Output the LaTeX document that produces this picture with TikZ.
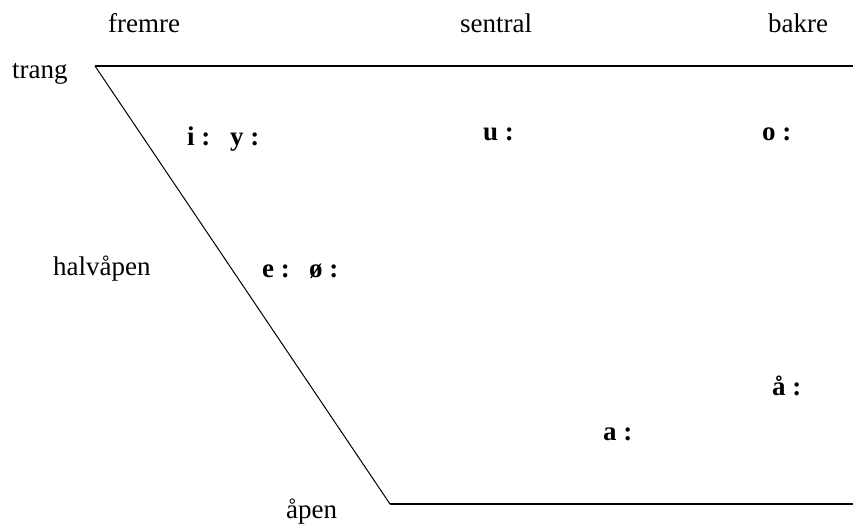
\documentclass[tikz,border=0pt]{standalone}
\usepackage{fontspec}
\setmainfont{Liberation Serif}
\begin{document}
\begin{tikzpicture}[x=1pt,y=-1pt,
  lbl/.style={inner sep=0pt,anchor=base west,font=\fontsize{27}{30}\selectfont},
  vow/.style={inner sep=0pt,anchor=base west,font=\fontsize{27}{30}\selectfont\bfseries}]
\useasboundingbox (0,0) rectangle (853,527);
\coordinate (tl) at (95,66);
\coordinate (tr) at (853,66);
\coordinate (bl) at (390,504);
\coordinate (br) at (853,504);
\draw[line width=1.8pt] (tl) -- (tr);
\draw[line width=1pt] (tl) -- (bl);
\draw[line width=1.8pt] (bl) -- (br);
\node[lbl] (fremre) at (108,33) {fremre};
\node[lbl] (sentral) at (460,33) {sentral};
\node[lbl] (bakre) at (768,33) {bakre};
\node[lbl] (trang) at (12,78) {trang};
\node[lbl] (halv) at (53,275) {halvåpen};
\node[lbl] (apen) at (286,518) {åpen};
\node[vow] (i) at (187,145) {i :};
\node[vow] (y) at (230,145) {y :};
\node[vow] (u) at (483,140) {u :};
\node[vow] (o) at (762,140) {o :};
\node[vow] (e) at (262,277) {e :};
\node[vow] (oe) at (309,277) {ø :};
\node[vow] (aa) at (772,395) {å :};
\node[vow] (a) at (603,440) {a :};
\end{tikzpicture}
\end{document}
